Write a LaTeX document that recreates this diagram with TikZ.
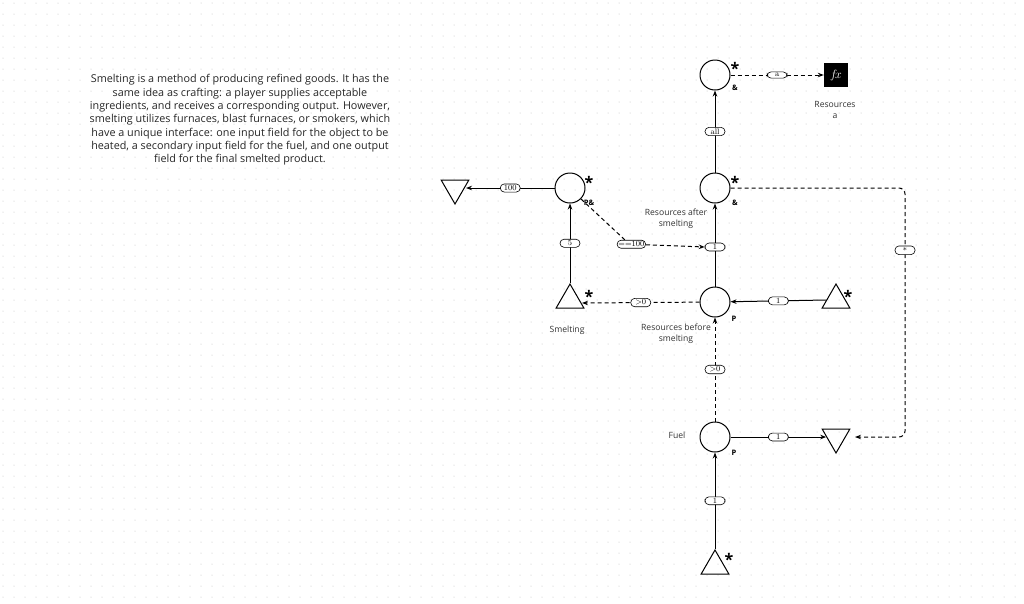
\documentclass[tikz,border=0pt]{standalone}
\usepackage{fontspec}
\setsansfont{Open Sans}
\usetikzlibrary{arrows.meta,shapes.geometric}
\begin{document}
\begin{tikzpicture}[x=1pt,y=-1pt,
 circ/.style={circle,draw,line width=1pt,minimum size=30pt,inner sep=0pt},
 tri/.style={isosceles triangle,isosceles triangle apex angle=60,draw,line width=1pt,minimum height=24pt,inner sep=0pt},
 lab/.style={draw,solid,line width=0.6pt,rounded corners=4pt,fill=white,font=\fontsize{8}{8}\selectfont,inner sep=1.3pt,minimum width=20pt},
 txt/.style={font=\sffamily\fontsize{8.6}{11}\selectfont,align=center,text=black!80},
 mk/.style={font=\sffamily\bfseries\fontsize{7.5}{7.5}\selectfont},
 st/.style={font=\sffamily\bfseries\fontsize{16}{16}\selectfont},
 sol/.style={line width=1pt,-{Stealth[length=6pt]}},
 das/.style={line width=1pt,dash pattern=on 4pt off 3pt,-{Stealth[length=6pt]}}]
\useasboundingbox (0,0) rectangle (1024,603);
\fill[white] (0,0) rectangle (1024,603);
\foreach \i in {0,...,93}{\foreach \j in {0,...,54}{\fill[black!25] (\i*11+3,\j*11+3) circle (0.5pt);}}
\node[font=\sffamily\fontsize{10.8}{13.3}\selectfont,text=black!85,align=center] (desc) at (240,120) {Smelting is a method of producing refined goods. It has the\\same idea as crafting: a player supplies acceptable\\ingredients, and receives a corresponding output. However,\\smelting utilizes furnaces, blast furnaces, or smokers, which\\have a unique interface: one input field for the object to be\\heated, a secondary input field for the fuel, and one output\\field for the final smelted product.};
\node[circ] (T) at (715,75) {};
\node[circ] (M) at (715,188) {};
\node[circ] (P1) at (715,302) {};
\node[circ] (F) at (715,437) {};
\node[circ] (L) at (570,188) {};
\node[fill=black,text=white,minimum size=24pt,inner sep=0pt] (fx) at (836,75) {\large$f\!x$};
\node[tri,shape border rotate=-90] (TL) at (455,188) {};
\node[tri,shape border rotate=90] (S) at (570,300) {};
\node[tri,shape border rotate=90] (TR) at (836,300) {};
\node[tri,shape border rotate=-90] (TD) at (836,437) {};
\node[tri,shape border rotate=90] (TB) at (715,566) {};
\coordinate (tlr) at (466,188);
\coordinate (sr) at (582,303);
\node[st] (s1) at (735,68) {*};
\node[st] (s2) at (735,182) {*};
\node[st] (s3) at (589,182) {*};
\node[st] (s4) at (589,296) {*};
\node[st] (s5) at (848,296) {*};
\node[st] (s6) at (729,559) {*};
\node[mk] (a1) at (735,88) {\&};
\node[mk] (a2) at (735,203) {\&};
\node[mk] (a3) at (589,203) {P\&};
\node[mk] (p1) at (734,319) {P};
\node[mk] (p2) at (734,453) {P};
\node[txt] (rt) at (835,110) {Resources\\a};
\node[txt] (ra) at (676,219) {Resources after\\smelting};
\node[txt] (rb) at (676,334) {Resources before\\smelting};
\node[txt] (sm) at (567,330) {Smelting};
\node[txt] (fu) at (677,435) {Fuel};
\coordinate (k) at (715,247);
\draw[sol] (M) -- node[lab]{all} (T);
\draw[das] (T) -- node[lab]{a} (fx);
\draw[sol] (P1) -- (M);
\node[lab] (one) at (k) {1};
\draw[line width=1pt,dash pattern=on 4pt off 3pt] (L.south east) -- (625,240);
\draw[das] (625,244) -- node[lab,pos=0.08]{==100} (one.west);
\draw[sol] (S.apex) -- node[lab]{5} (L);
\draw[sol] (L) -- node[lab]{100} (tlr);
\draw[das] (P1) -- node[lab]{>0} (sr);
\draw[sol] (TR.west) -- node[lab]{1} (P1);
\draw[das] (F) -- node[lab]{>0} (P1);
\draw[sol] (F) -- node[lab]{1} (TD.west);
\draw[sol] (TB.apex) -- node[lab]{1} (F);
\draw[das,rounded corners=6pt] (M.east) -- (905,188) -- node[lab,pos=0.25]{*} (905,437) -- (855,437);
\end{tikzpicture}
\end{document}
